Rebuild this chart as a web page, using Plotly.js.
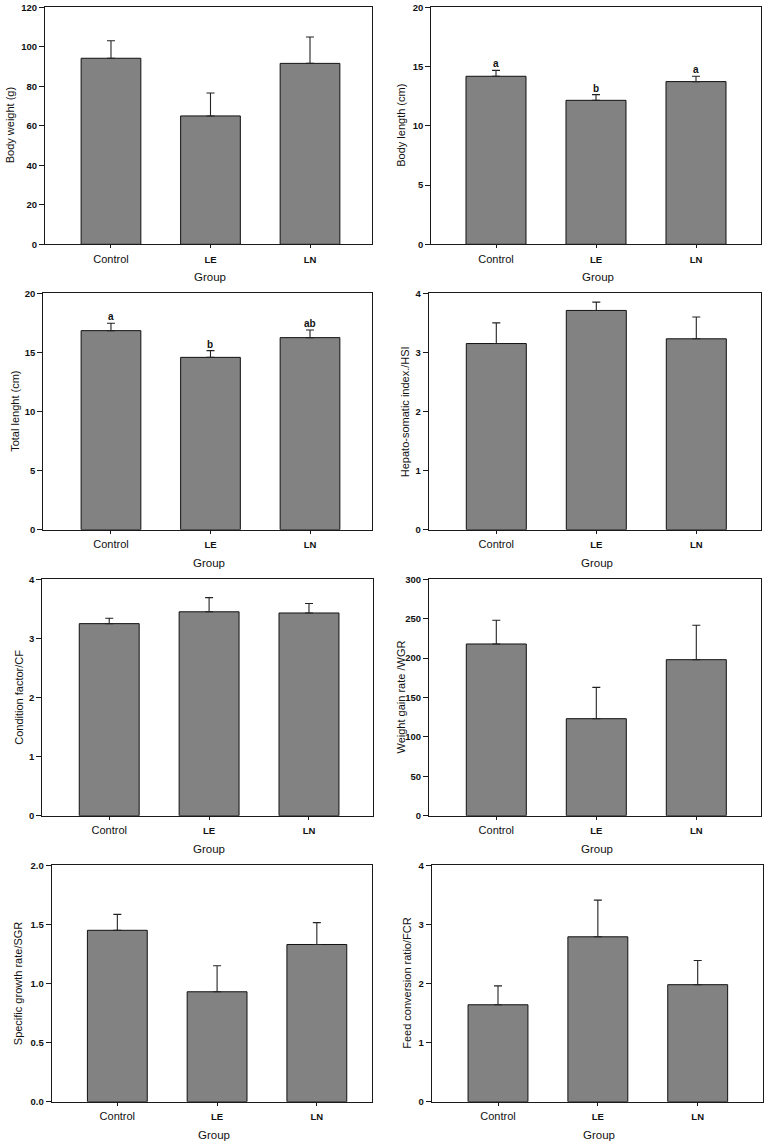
<!DOCTYPE html>
<html>
<head>
<meta charset="utf-8">
<script src="https://cdn.plot.ly/plotly-3.0.1.min.js"></script>
<style>
  html, body { margin: 0; padding: 0; background: #ffffff; }
  #chart { width: 767px; height: 1145px; }
</style>
</head>
<body>
<div id="chart"></div>
<script>
// Growth performance by group: mean with upper SE bar
const groups = ['Control', 'LE', 'LN'];
const groupLabels = ['Control', '<b><span style="font-size:9.5px">LE</span></b>', '<b><span style="font-size:9.5px">LN</span></b>'];

const bodyWeight = [94.2, 65.0, 91.6];
const bodyWeightSE = [8.9, 11.6, 13.4];

const bodyLength = [14.18, 12.15, 13.73];
const bodyLengthSE = [0.50, 0.48, 0.45];
const bodyLengthLetters = ['a', 'b', 'a'];

const totalLength = [16.84, 14.58, 16.25];
const totalLengthSE = [0.62, 0.57, 0.65];
const totalLengthLetters = ['a', 'b', 'ab'];

const hsi = [3.15, 3.71, 3.23];
const hsiSE = [0.35, 0.14, 0.37];

const cf = [3.25, 3.45, 3.43];
const cfSE = [0.09, 0.24, 0.16];

const wgr = [217.9, 123.1, 198.0];
const wgrSE = [30.1, 39.8, 43.6];

const sgr = [1.45, 0.93, 1.33];
const sgrSE = [0.135, 0.22, 0.185];

const fcr = [1.64, 2.79, 1.98];
const fcrSE = [0.32, 0.62, 0.41];

const yTitles = [
  'Body weight (g)', 'Body length (cm)',
  'Total lenght (cm)', 'Hepato-somatic index./HSI',
  'Condition factor/CF', 'Weight gain rate /WGR',
  'Specific growth rate/SGR', 'Feed conversion ratio/FCR'
];
const xTitle = 'Group';

// Page geometry (pixels)
const W = 767, H = 1145;
const FONT = 'Liberation Sans, Arial, Helvetica, sans-serif';

const panels = [
  { v: bodyWeight,  e: bodyWeightSE,  L: null,               ymax: 120, dtick: 20,  fmt: '',    box: [45, 372, 7.3, 244.3],     xr: [-0.663, 2.623], tx: 9.5 },
  { v: bodyLength,  e: bodyLengthSE,  L: bodyLengthLetters,  ymax: 20,  dtick: 5,   fmt: '',    box: [431.3, 760.7, 7.3, 244.3], xr: [-0.647, 2.647], tx: 401 },
  { v: totalLength, e: totalLengthSE, L: totalLengthLetters, ymax: 20,  dtick: 5,   fmt: '',    box: [43.3, 372.3, 293.3, 529.7], xr: [-0.680, 2.626], tx: 14.3 },
  { v: hsi,         e: hsiSE,         L: null,               ymax: 4,   dtick: 1,   fmt: '',    box: [428.7, 761.3, 293.3, 529.7], xr: [-0.676, 2.650], tx: 404.7 },
  { v: cf,          e: cfSE,          L: null,               ymax: 4,   dtick: 1,   fmt: '',    box: [42.3, 373.3, 579.3, 815.7], xr: [-0.670, 2.644], tx: 18.3 },
  { v: wgr,         e: wgrSE,         L: null,               ymax: 300, dtick: 50,  fmt: '',    box: [429, 761.3, 579.3, 815.7],  xr: [-0.673, 2.650], tx: 400 },
  { v: sgr,         e: sgrSE,         L: null,               ymax: 2,   dtick: 0.5, fmt: '.1f', box: [51.7, 372.3, 865.3, 1101.7], xr: [-0.658, 2.556], tx: 17.7 },
  { v: fcr,         e: fcrSE,         L: null,               ymax: 4,   dtick: 1,   fmt: '',    box: [431.7, 763, 865.3, 1101.7], xr: [-0.664, 2.654], tx: 406.3 }
];

const traces = [];
const annotations = [];
const layout = {
  width: W, height: H,
  margin: { l: 0, r: 0, t: 0, b: 0 },
  paper_bgcolor: '#ffffff',
  plot_bgcolor: '#ffffff',
  showlegend: false,
  font: { family: FONT, color: '#111111', size: 11 },
  annotations: annotations
};

panels.forEach((p, i) => {
  const n = i + 1;
  const sx = n === 1 ? '' : String(n);
  const [x0, x1, y0, y1] = p.box;

  traces.push({
    type: 'bar',
    x: groups,
    y: p.v,
    xaxis: 'x' + sx,
    yaxis: 'y' + sx,
    width: 0.6,
    marker: { color: '#828282', line: { color: '#111111', width: 1 } },
    error_y: {
      type: 'data', symmetric: false,
      array: p.e, arrayminus: p.e.map(() => 0),
      color: '#222222', thickness: 1.1, width: 4
    },
    hoverinfo: 'skip'
  });

  layout['xaxis' + sx] = {
    domain: [x0 / W, x1 / W],
    anchor: 'y' + sx,
    type: 'category',
    range: p.xr,
    tickvals: groups, ticktext: groupLabels,
    showline: true, mirror: true, linecolor: '#1a1a1a', linewidth: 1,
    ticks: 'outside', ticklen: 3, tickwidth: 1, tickcolor: '#1a1a1a',
    ticklabelstandoff: 1,
    tickfont: { family: FONT, size: 11, color: '#111111' },
    showgrid: false, zeroline: false, fixedrange: true
  };
  layout['yaxis' + sx] = {
    domain: [1 - y1 / H, 1 - y0 / H],
    anchor: 'x' + sx,
    range: [0, p.ymax],
    tick0: 0, dtick: p.dtick, tickformat: p.fmt,
    showline: true, mirror: true, linecolor: '#1a1a1a', linewidth: 1,
    ticks: 'outside', ticklen: 5, tickwidth: 1, tickcolor: '#1a1a1a',
    tickfont: { family: FONT, size: 9.5, weight: 700, color: '#111111' },
    showgrid: false, zeroline: false, fixedrange: true
  };

  // y-axis title
  annotations.push({
    xref: 'paper', yref: 'paper',
    x: p.tx / W, y: 1 - ((y0 + y1) / 2) / H,
    xanchor: 'center', yanchor: 'middle',
    textangle: -90, showarrow: false,
    text: yTitles[i],
    font: { family: FONT, size: 11, color: '#111111' }
  });
  // x-axis title
  annotations.push({
    xref: 'paper', yref: 'paper',
    x: ((x0 + x1) / 2) / W + 0.002, y: 1 - (y1 + 33) / H,
    xanchor: 'center', yanchor: 'middle',
    showarrow: false, text: xTitle,
    font: { family: FONT, size: 11.5, color: '#111111' }
  });
  // significance letters above the SE bars
  if (p.L) {
    p.L.forEach((t, k) => {
      annotations.push({
        xref: 'x' + sx, yref: 'y' + sx,
        x: groups[k], y: p.v[k] + p.e[k],
        xanchor: 'center', yanchor: 'bottom',
        showarrow: false, text: t, yshift: -1,
        font: { family: FONT, size: 10, weight: 700, color: '#111111' }
      });
    });
  }
});

Plotly.newPlot('chart', traces, layout, { staticPlot: true, displayModeBar: false });
</script>
</body>
</html>
